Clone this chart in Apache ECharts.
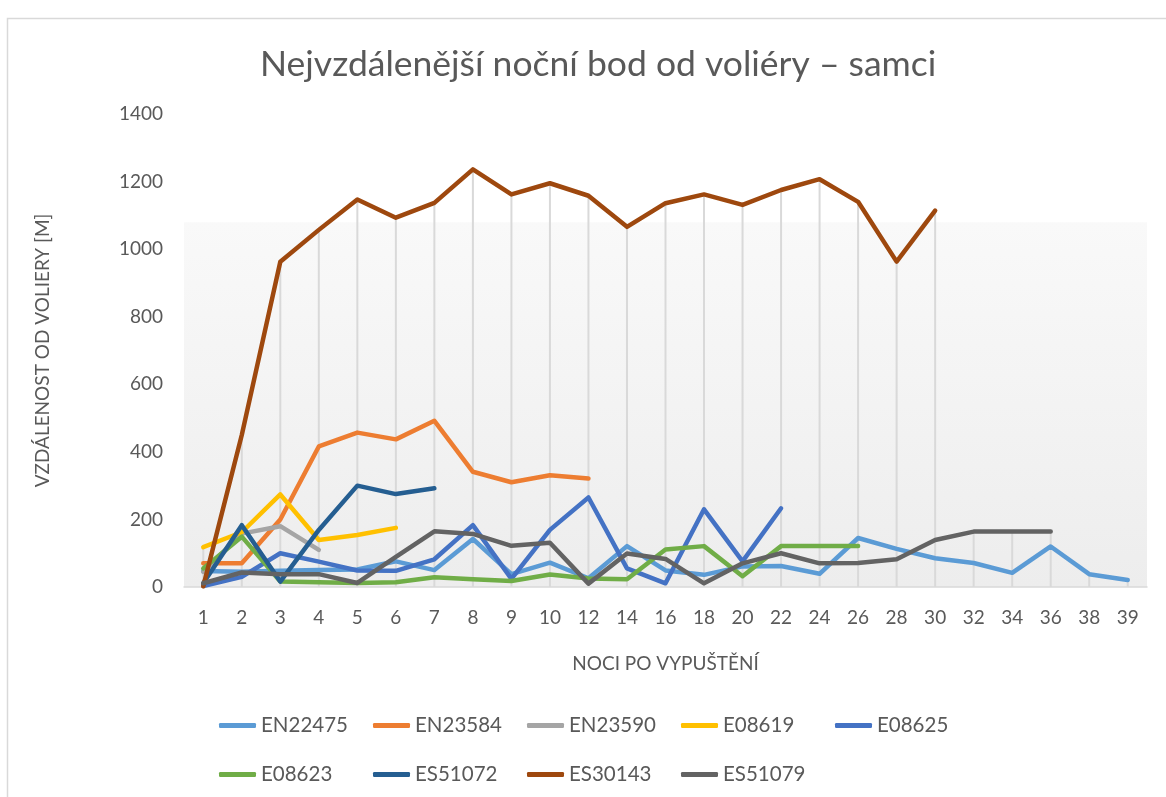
<!DOCTYPE html>
<html lang="cs">
<head>
  <meta charset="UTF-8">
  <title>samci</title>
  <style>
    html, body, #chart {
      margin: 0;
      padding: 0;
      width: 100%;
      height: 100%;
      background: #fff;
    }
  </style>
</head>
<body>
<div id="chart"></div>

<script src="https://cdn.jsdelivr.net/npm/echarts@6/dist/echarts.min.js"></script>
<script>
  // noci po vypuštění (osa x)
  var nights = ['1', '2', '3', '4', '5', '6', '7', '8', '9', '10', '12', '14', '16', '18',
    '20', '22', '24', '26', '28', '30', '32', '34', '36', '38', '39'];

  // nejvzdálenější bod [m]
  var EN22475 = [47, 45, 48, 50, 52, 76, 50, 142, 38, 72, 26, 121, 49, 36, 61, 62, 39, 145, 113, 85, 71, 42, 120, 38, 21];
  var EN23584 = [70, 70, 200, 416, 457, 437, 492, 341, 310, 331, 321];
  var EN23590 = [45, 158, 180, 110];
  var E08619 = [118, 162, 274, 139, 154, 175];
  var E08625 = [3, 30, 100, 75, 49, 48, 82, 183, 24, 169, 265, 55, 11, 230, 76, 233];
  var E08623 = [55, 149, 16, 14, 12, 14, 29, 23, 18, 37, 25, 23, 111, 121, 32, 121, 121, 121];
  var ES51072 = [11, 183, 16, 169, 300, 275, 292];
  var ES30143 = [2, 450, 963, 1057, 1147, 1093, 1137, 1236, 1162, 1195, 1158, 1066, 1136, 1162, 1131, 1175, 1207, 1140, 963, 1114];
  var ES51079 = [11, 43, 38, 38, 12, 89, 165, 157, 122, 131, 10, 99, 83, 11, 70, 100, 70, 71, 82, 139, 164, 164, 164];

  var yTicks = {min: 0, max: 1400, step: 200};

  var seriesDefs = [
    {name: 'EN22475', data: EN22475, color: '#5B9BD5'},
    {name: 'EN23584', data: EN23584, color: '#ED7D31'},
    {name: 'EN23590', data: EN23590, color: '#A5A5A5'},
    {name: 'E08619', data: E08619, color: '#FFC000'},
    {name: 'E08625', data: E08625, color: '#4472C4'},
    {name: 'E08623', data: E08623, color: '#70AD47'},
    {name: 'ES51072', data: ES51072, color: '#255E91'},
    {name: 'ES30143', data: ES30143, color: '#9E480E'},
    {name: 'ES51079', data: ES51079, color: '#636363'}
  ];

  // svislé spojnice: od osy k nejvyšší hodnotě v každé noci
  var dropLines = nights.map(function (n, i) {
    var m = 0;
    seriesDefs.forEach(function (s) {
      if (s.data[i] != null && s.data[i] > m) m = s.data[i];
    });
    return m;
  });

  var font = 'Lato, "Open Sans", sans-serif';
  var grey = '#595959';

  var lineSeries = seriesDefs.map(function (s) {
    return {
      name: s.name,
      type: 'line',
      data: s.data,
      showSymbol: false,
      symbol: 'none',
      z: 3,
      color: s.color,
      lineStyle: {width: 4.5, color: s.color, cap: 'round', join: 'round'}
    };
  });

  // legenda: 5 položek v prvním řádku, 4 ve druhém, pevný rozestup
  var legends = seriesDefs.map(function (s, i) {
    var row = i < 5 ? 0 : 1;
    var col = i < 5 ? i : i - 5;
    return {
      data: [s.name],
      left: 214 + col * 154,
      top: 710 + row * 49,
      itemWidth: 37,
      itemHeight: 5,
      icon: 'roundRect',
      textStyle: {color: grey, fontFamily: font, fontSize: 20.5}
    };
  });

  var chart = echarts.init(document.getElementById('chart'));
  chart.setOption({
    animation: false,
    backgroundColor: '#fff',
    textStyle: {fontFamily: font},
    title: {
      text: 'Nejvzdálenější noční bod od voliéry – samci',
      left: 255,
      top: 42,
      textStyle: {color: grey, fontFamily: font, fontSize: 35.5, fontWeight: 'normal'}
    },
    graphic: [{
      type: 'rect',
      left: 5,
      top: 16,
      shape: {width: 1200, height: 900},
      style: {fill: 'none', stroke: '#d9d9d9', lineWidth: 1.5},
      silent: true,
      z: -1
    }],
    legend: legends,
    grid: {
      left: 184,
      right: 19,
      top: 114,
      bottom: 210,
      show: true,
      borderWidth: 0,
      backgroundColor: {
        type: 'linear', x: 0, y: 0, x2: 0, y2: 1,
        colorStops: [
          {offset: 0, color: '#ffffff'},
          {offset: 0.228, color: '#ffffff'},
          {offset: 0.23, color: '#f9f9f9'},
          {offset: 1, color: '#ededed'}
        ]
      }
    },
    xAxis: {
      type: 'category',
      data: nights,
      boundaryGap: true,
      name: 'NOCI PO VYPUŠTĚNÍ',
      nameLocation: 'middle',
      nameGap: 67,
      nameTextStyle: {color: grey, fontFamily: font, fontSize: 19},
      axisLine: {lineStyle: {color: '#d9d9d9', width: 1.5}},
      axisTick: {show: false},
      axisLabel: {color: grey, fontFamily: font, fontSize: 19, margin: 21, interval: 0},
      splitLine: {show: false}
    },
    yAxis: {
      type: 'value',
      min: yTicks.min,
      max: yTicks.max,
      interval: yTicks.step,
      name: 'VZDÁLENOST OD VOLIERY [M]',
      nameLocation: 'middle',
      nameRotate: 90,
      nameGap: 132,
      nameTextStyle: {color: grey, fontFamily: font, fontSize: 19},
      axisLine: {show: false},
      axisTick: {show: false},
      axisLabel: {
        color: grey, fontFamily: font, fontSize: 19, margin: 21,
        formatter: function (v) { return String(v); }
      },
      splitLine: {show: false}
    },
    series: [{
      name: 'drop',
      type: 'bar',
      data: dropLines,
      barWidth: 2,
      silent: true,
      z: 1,
      itemStyle: {color: '#d9d9d9'}
    }].concat(lineSeries)
  });
</script>
</body>
</html>
